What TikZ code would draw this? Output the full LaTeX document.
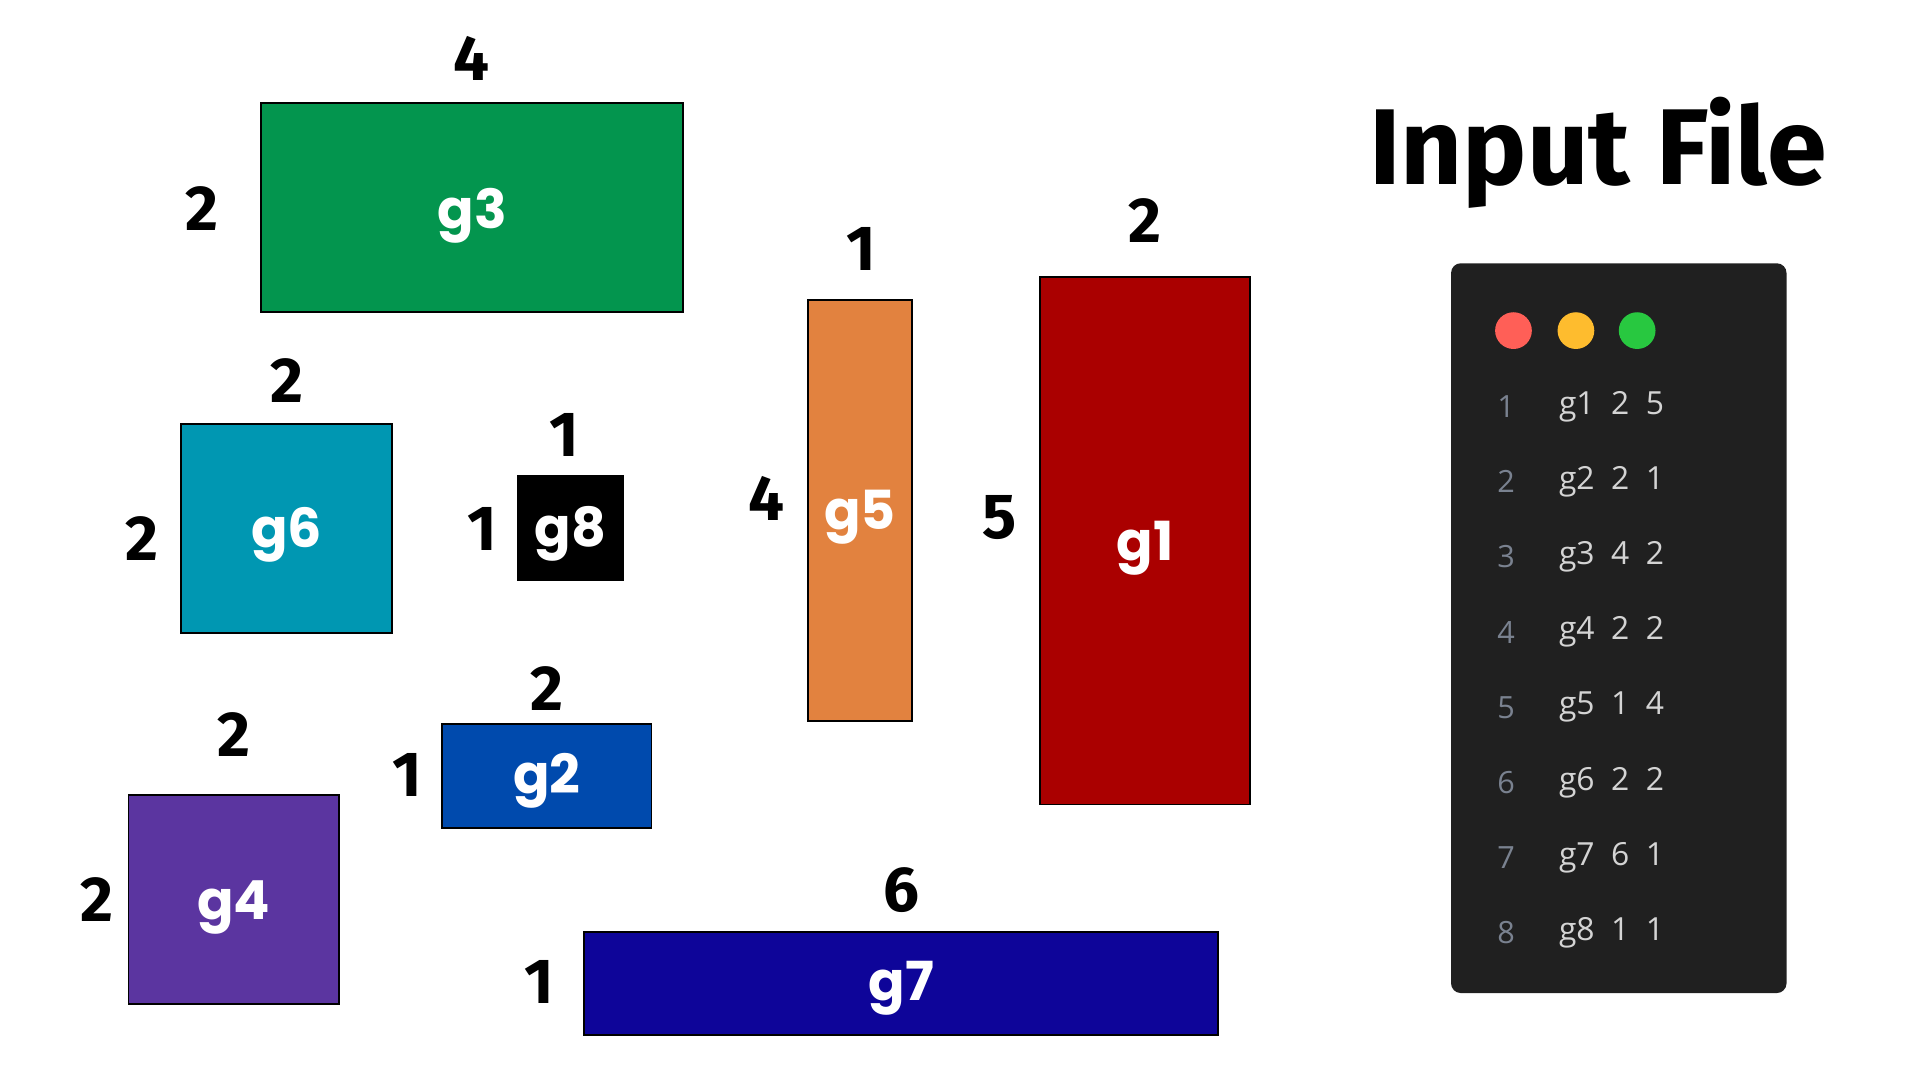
\documentclass[tikz,border=0pt]{standalone}
\usepackage{fontspec}
\setmainfont{Fira Sans}
\newcommand\heavy{\bfseries}
\newfontfamily\lblfont{Poppins}
\newfontfamily\codefont{Open Sans}
\definecolor{cg3}{HTML}{03954E}
\definecolor{cg6}{HTML}{0097B2}
\definecolor{cg5}{HTML}{E2823F}
\definecolor{cg1}{HTML}{AA0000}
\definecolor{cg2}{HTML}{004AAD}
\definecolor{cg4}{HTML}{5B35A0}
\definecolor{cg7}{HTML}{0E0599}
\definecolor{panel}{HTML}{202020}
\definecolor{cred}{HTML}{FF5F57}
\definecolor{cyel}{HTML}{FEBC2E}
\definecolor{cgrn}{HTML}{28C840}
\definecolor{lnum}{HTML}{7A8290}
\definecolor{ctext}{HTML}{D4D4D4}
\tikzset{
  blk/.style={draw=black, line width=1.5pt, inner sep=0pt, text=white,
    font=\lblfont\bfseries\fontsize{44}{50}\selectfont},
  lbl/.style={inner sep=0pt, text=white, yshift=-4pt,
    font=\lblfont\bfseries\fontsize{44}{50}\selectfont},
  dim/.style={font=\heavy\fontsize{52}{60}\selectfont, text=black, inner sep=0pt},
  ln/.style={font=\codefont\fontsize{25}{28}\selectfont, text=lnum, inner sep=0pt},
  code/.style={font=\codefont\fontsize{26}{28}\selectfont, text=ctext, inner sep=0pt, anchor=west},
}
\begin{document}
\begin{tikzpicture}[x=1pt,y=-1pt]
\useasboundingbox (0,0) rectangle (1568,882);
% blocks
\draw[blk, fill=cg3] (213,84) rectangle (558,255);
\node[lbl] (g3) at (385.5,172) {g3};
\node[dim] (g3w) at (385,48) {4};
\node[dim] (g3h) at (165,170) {2};

\draw[blk, fill=cg6] (148,346) rectangle (320,517);
\node[lbl] (g6) at (234,433) {g6};
\node[dim] (g6w) at (234,311) {2};
\node[dim] (g6h) at (116,440) {2};

\draw[blk, fill=black] (423,389) rectangle (509,474);
\node[lbl] (g8) at (466,432) {g8};
\node[dim] (g8w) at (461,355) {1};
\node[dim] (g8h) at (394,432) {1};

\draw[blk, fill=cg5] (660,245) rectangle (745,589);
\node[lbl] (g5) at (702.5,418) {g5};
\node[dim] (g5w) at (703,203) {1};
\node[dim] (g5h) at (626,407) {4};

\draw[blk, fill=cg1] (849,226) rectangle (1021,657);
\node[lbl] (g1) at (935,444) {g1};
\node[dim] (g1w) at (935,180) {2};
\node[dim] (g1h) at (816,423) {5};

\draw[blk, fill=cg2] (361,591) rectangle (532,676);
\node[lbl] (g2) at (446.5,634) {g2};
\node[dim] (g2w) at (447,562) {2};
\node[dim] (g2h) at (333,633) {1};

\draw[blk, fill=cg4] (105,649) rectangle (277,820);
\node[lbl] (g4) at (191,737) {g4};
\node[dim] (g4w) at (191,600) {2};
\node[dim] (g4h) at (79,735) {2};

\draw[blk, fill=cg7] (477,761) rectangle (995,845);
\node[lbl] (g7) at (736,803) {g7};
\node[dim] (g7w) at (736,727) {6};
\node[dim] (g7h) at (440,802) {1};

% title
\node[font=\heavy\fontsize{88}{96}\selectfont, inner sep=0pt] (title) at (1305,125) {Input File};

% panel
\fill[panel, rounded corners=8pt] (1185,215) rectangle (1459,811);
\fill[cred] (1236,270) circle (15);
\fill[cyel] (1287,270) circle (15);
\fill[cgrn] (1337,270) circle (15);
\foreach \i/\t [count=\k] in {1/{g1\ \ 2\ \ 5},2/{g2\ \ 2\ \ 1},3/{g3\ \ 4\ \ 2},4/{g4\ \ 2\ \ 2},5/{g5\ \ 1\ \ 4},6/{g6\ \ 2\ \ 2},7/{g7\ \ 6\ \ 1},8/{g8\ \ 1\ \ 1}}{
  \pgfmathsetmacro\yy{332+61.4*(\k-1)}
  \node[ln] (n\i) at (1230,\yy) {\i};
  \node[code] (c\i) at (1273,\yy) {\t};
}
\end{tikzpicture}
\end{document}
